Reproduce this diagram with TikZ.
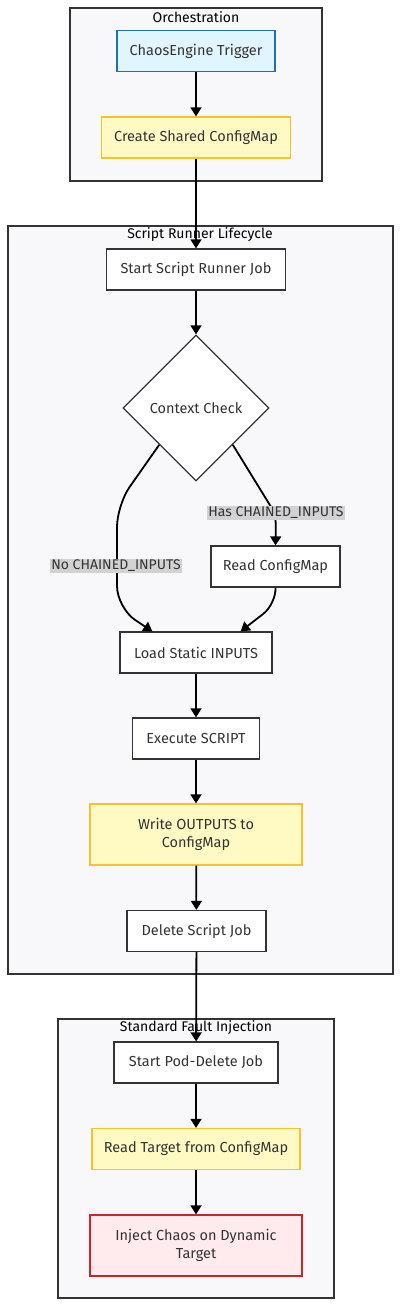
\documentclass[tikz,border=0pt]{standalone}
\usepackage{fontspec}
\setmainfont{Fira Sans}
\usetikzlibrary{shapes.geometric, arrows.meta}

\definecolor{clusterbg}{HTML}{F8F8FB}
\definecolor{linecol}{HTML}{333333}
\definecolor{textcol}{HTML}{333333}
\definecolor{bluefill}{HTML}{E1F5FE}
\definecolor{blueline}{HTML}{1F6FB5}
\definecolor{yelfill}{HTML}{FFF9C4}
\definecolor{yelline}{HTML}{FBC02D}
\definecolor{redfill}{HTML}{FFEBEE}
\definecolor{redline}{HTML}{C62828}
\definecolor{labelbg}{HTML}{D2D2D2}

\begin{document}
\begin{tikzpicture}[x=1pt, y=-1pt,
    cluster/.style={draw=linecol, fill=clusterbg, line width=1.3pt, inner sep=0pt},
    ctitle/.style={font=\fontsize{14}{16}\selectfont, text=black, inner sep=1pt},
    box/.style={draw=linecol, fill=white, line width=1.3pt, inner sep=0pt,
        minimum height=41pt, text=textcol, align=center,
        font=\fontsize{14.5}{18}\selectfont},
    trigger/.style={box, draw=blueline, fill=bluefill},
    shared/.style={box, draw=yelline, fill=yelfill},
    chaos/.style={box, draw=redline, fill=redfill},
    check/.style={box, diamond, minimum width=146pt, minimum height=146pt},
    flow/.style={draw=black, line width=1.8pt, -{Triangle[length=9pt,width=11pt]}},
    elabel/.style={fill=labelbg, text=textcol, inner sep=1.5pt,
        font=\fontsize{14}{16}\selectfont}]

    \useasboundingbox (0,0) rectangle (400,1306);

    % subgraphs
    \node[cluster, minimum width=252pt, minimum height=173pt] (orch) at (196,94.5) {};
    \node[cluster, minimum width=385pt, minimum height=748pt] (runner) at (200.5,600) {};
    \node[cluster, minimum width=276pt, minimum height=279pt] (fault) at (196,1158.5) {};
    \node[ctitle] (orchT) at (196,17) {Orchestration};
    \node[ctitle] (runnerT) at (200,235) {Script Runner Lifecycle};
    \node[ctitle] (faultT) at (196,1028) {Standard Fault Injection};

    % steps
    \node[trigger, minimum width=158pt] (trig) at (196,51) {ChaosEngine Trigger};
    \node[shared, minimum width=189pt] (cfg) at (196,137.5) {Create Shared ConfigMap};
    \node[box, minimum width=179pt] (ssr) at (196,269.5) {Start Script Runner Job};
    \node[check] (cc) at (196,408) {Context Check};
    \node[box, minimum width=129pt] (rcm) at (275.5,566.5) {Read ConfigMap};
    \node[box, minimum width=152pt] (lsi) at (196,652.5) {Load Static INPUTS};
    \node[box, minimum width=127pt] (exe) at (196,738.5) {Execute SCRIPT};
    \node[shared, minimum width=212pt, minimum height=61pt] (wo) at (196,834.5) {Write OUTPUTS to\\ConfigMap};
    \node[box, minimum width=139pt] (dsj) at (196.5,931) {Delete Script Job};
    \node[box, minimum width=164pt] (spd) at (196,1062.5) {Start Pod-Delete Job};
    \node[shared, minimum width=208pt] (rt) at (196,1149) {Read Target from ConfigMap};
    \node[chaos, minimum width=212pt, minimum height=61pt] (inj) at (196,1245.5) {Inject Chaos on Dynamic\\Target};

    \draw[flow] (trig) -- (cfg);
    \draw[flow] (cfg) -- (ssr);
    \draw[flow] (ssr) -- (cc);
    \draw[flow, rounded corners=22] (cc.south west) -- (117,505) -- (117,608) -- ([xshift=33pt]lsi.north west);
    \draw[flow, rounded corners=10] (cc.south east) -- (276,515) -- (rcm.north);
    \draw[flow, rounded corners=16] (rcm.south) -- (276,604) -- ([xshift=-32pt]lsi.north east);
    \draw[flow] (lsi) -- (exe);
    \draw[flow] (exe) -- (wo);
    \draw[flow] (wo) -- (dsj);
    \draw[flow] (dsj) -- (spd);
    \draw[flow] (spd) -- (rt);
    \draw[flow] (rt) -- (inj);

    \node[elabel] (hasL) at (276,513) {Has CHAINED\_INPUTS};
    \node[elabel] (noL) at (116,566) {No CHAINED\_INPUTS};
\end{tikzpicture}
\end{document}
